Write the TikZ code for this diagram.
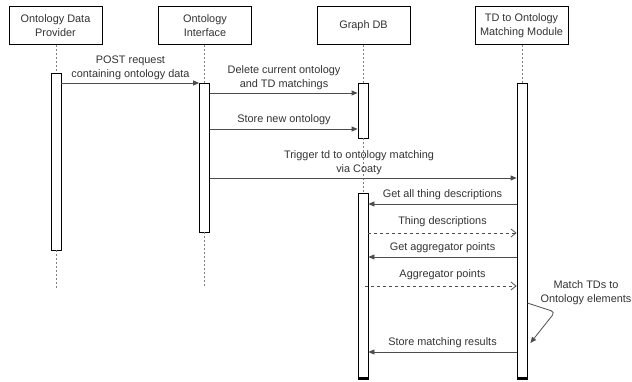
\documentclass[tikz,border=0pt]{standalone}
\usepackage{fontspec}
\setmainfont{Liberation Sans}
\usetikzlibrary{arrows.meta}
\definecolor{txt}{HTML}{333333}
\definecolor{ln}{HTML}{4D4D4D}
\begin{document}
\begin{tikzpicture}[x=1pt,y=-1pt, font=\fontsize{10.9}{14}\selectfont,
 actor/.style={draw=black, line width=1pt, fill=white, minimum width=93pt, minimum height=38pt, align=center, text=txt, inner sep=0},
 act/.style={draw=black, line width=0.8pt, fill=white, minimum width=10pt, inner sep=0},
 life/.style={draw=gray, dash pattern=on 2pt off 2pt, line width=0.8pt},
 msg/.style={draw=ln, line width=0.8pt, -{Triangle[length=6pt,width=5pt]}},
 ret/.style={draw=ln, line width=0.8pt, dash pattern=on 3pt off 3pt, -{Straight Barb[length=5pt,width=8pt]}},
 lbl/.style={text=txt, align=center, inner sep=0, anchor=south}]
\useasboundingbox (0,0) rectangle (632,382);
% actors
\node[actor] (p1) at (55.5,26) {Ontology Data\\Provider};
\node[actor] (p2) at (205,26) {Ontology\\Interface};
\node[actor] (p3) at (363.5,26) {Graph DB};
\node[actor] (p4) at (521.5,26) {TD to Ontology\\Matching Module};
% lifeline ends
\coordinate (e1) at (56,288);
\coordinate (e2) at (204.5,288);
% activations
\node[act, minimum height=177pt] (a1) at (56,161.5) {};
\node[act, minimum height=149pt] (a2) at (204.5,157.5) {};
\node[act, minimum height=55pt] (a3) at (363,110.5) {};
\node[act, minimum height=186pt] (a3b) at (363,286.5) {};
\node[act, minimum height=296pt] (a4) at (522,231.5) {};
% lifelines
\draw[life] (p1.south -| a1) -- (a1.north);
\draw[life] (a1.south) -- (e1);
\draw[life] (p2.south -| a2) -- (a2.north);
\draw[life] (a2.south) -- (e2);
\draw[life] (p3.south -| a3) -- (a3.north);
\draw[life] (a3.south) -- (a3b.north);
\draw[life] (p4.south -| a4) -- (a4.north);
\fill[black] (a3b.south west) rectangle ++(10,-3);
\fill[black] (a4.south west) rectangle ++(10,-3);
% messages
\draw[msg] (a1.east |- 0,83) -- (a2.west |- 0,83);
\node[lbl] (m1) at (130.5,80) {POST request\\containing ontology data};
\draw[msg] (a2.east |- 0,93) -- (a3.west |- 0,93);
\node[lbl] (m2) at (284,90) {Delete current ontology\\and TD matchings};
\draw[msg] (a2.east |- 0,129) -- (a3.west |- 0,129);
\node[lbl] (m3) at (284,125) {Store new ontology};
\draw[msg] (a2.east |- 0,178) -- (a4.west |- 0,178);
\node[lbl] (m4) at (359,175) {Trigger td to ontology matching\\via Coaty};
\draw[msg] (a4.west |- 0,204) -- (a3b.east |- 0,204);
\node[lbl] (m5) at (442.5,200) {Get all thing descriptions};
\draw[ret] (a3b.east |- 0,233) -- (a4.west |- 0,233);
\node[lbl] (m6) at (442.5,227) {Thing descriptions};
\draw[msg] (a4.west |- 0,257) -- (a3b.east |- 0,257);
\node[lbl] (m7) at (442.5,253) {Get aggregator points};
\draw[ret] ([xshift=-3pt]a3b.east |- 0,286) -- (a4.west |- 0,286);
\node[lbl] (m8) at (442.5,280) {Aggregator points};
\draw[msg, rounded corners=4pt] (a4.east |- 0,303) -- (555,312) -- ([xshift=3pt]a4.east |- 0,343);
\node[lbl] (m9) at (586,305) {Match TDs to\\Ontology elements};
\draw[msg] (a4.west |- 0,352) -- (a3b.east |- 0,352);
\node[lbl] (m10) at (442.5,348) {Store matching results};
\end{tikzpicture}
\end{document}
